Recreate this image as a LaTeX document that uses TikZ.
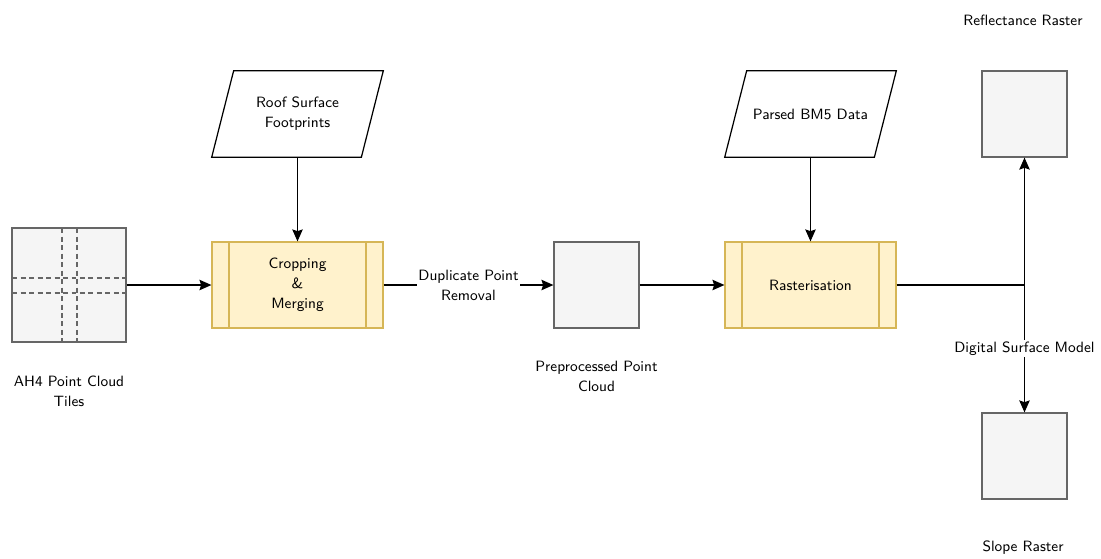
\documentclass[tikz,border=0pt]{standalone}
\usepackage{tikz}
\usetikzlibrary{arrows.meta}

\definecolor{procfill}{HTML}{FFF2CC}
\definecolor{procline}{HTML}{D6B656}
\definecolor{rastfill}{HTML}{F5F5F5}
\definecolor{rastline}{HTML}{666666}

\tikzset{
   every node/.style={font=\sffamily\fontsize{8.5}{11.4}\selectfont, align=center},
   arr/.style={-{Stealth[length=2.4mm,width=2.1mm,inset=0.35mm]}, line width=0.7pt},
   procbox/.style={draw=procline, fill=procfill, line width=0.7pt,
      minimum width=3.42cm, minimum height=1.72cm, inner sep=0pt,
      path picture={
         \draw[procline, line width=0.7pt]
            ([xshift=0.34cm]path picture bounding box.north west) --
            ([xshift=0.34cm]path picture bounding box.south west)
            ([xshift=-0.34cm]path picture bounding box.north east) --
            ([xshift=-0.34cm]path picture bounding box.south east);
      }},
   rastbox/.style={draw=rastline, fill=rastfill, line width=0.7pt,
      minimum width=1.7cm, minimum height=1.72cm, inner sep=0pt},
   databox/.style={minimum width=2.98cm, minimum height=1.72cm, inner sep=0pt},
   lbl/.style={fill=white, inner sep=1pt}
}

\begin{document}
\begin{tikzpicture}[x=0.02cm, y=-0.02cm]
   \useasboundingbox (0,0) rectangle (1101,558);
   % Tiles
   \node [rastbox, minimum width=2.28cm, minimum height=2.28cm,
      path picture={
         \draw[rastline, dash pattern=on 1mm off 0.7mm, line width=0.6pt]
            ([xshift=-0.14cm]path picture bounding box.north) -- ([xshift=-0.14cm]path picture bounding box.south)
            ([xshift=0.16cm]path picture bounding box.north) -- ([xshift=0.16cm]path picture bounding box.south)
            ([yshift=0.14cm]path picture bounding box.west) -- ([yshift=0.14cm]path picture bounding box.east)
            ([yshift=-0.16cm]path picture bounding box.west) -- ([yshift=-0.16cm]path picture bounding box.east);
      }] (tiles) at (69, 285) {};
   \node (tileslbl) at (69, 391) {AH4 Point Cloud\\Tiles};
   % Processes
   \node [procbox] (crop) at (297.5, 285) {Cropping\\\&\\Merging};
   \node [procbox] (rast) at (810.5, 285) {Rasterisation};
   % Data inputs
   \node [databox] (roof) at (297.5, 114) {Roof Surface\\Footprints};
   \node [databox] (bm5) at (810.5, 114) {Parsed BM5 Data};
   \foreach \n in {roof, bm5}
      \draw [line width=0.7pt]
         ([xshift=-0.22cm]\n.south west) -- ([xshift=0.22cm]\n.north west) --
         ([xshift=0.22cm]\n.north east) -- ([xshift=-0.22cm]\n.south east) -- cycle;
   % Rasters
   \node [rastbox] (pre) at (596.5, 285) {};
   \node (prelbl) at (596.5, 376) {Preprocessed Point\\Cloud};
   \node [rastbox] (refl) at (1024.5, 114) {};
   \node (refllbl) at (1023, 20) {Reflectance Raster};
   \node [rastbox] (slope) at (1024.5, 456) {};
   \node (slopelbl) at (1023, 548) {Slope Raster};
   % Connectors
   \coordinate (jn) at (1024.5, 285);
   \draw [arr] (tiles) -- (crop);
   \draw [arr] (roof) -- (crop);
   \draw [arr] (crop) -- node [lbl] {Duplicate Point\\Removal} (pre);
   \draw [arr] (pre) -- (rast);
   \draw [arr] (bm5) -- (rast);
   \draw [line width=0.7pt] (rast) -- (jn);
   \draw [arr] (jn) -- (refl);
   \draw [arr] (jn) -- node [lbl, pos=0.5] {Digital Surface Model} (slope);
\end{tikzpicture}
\end{document}
